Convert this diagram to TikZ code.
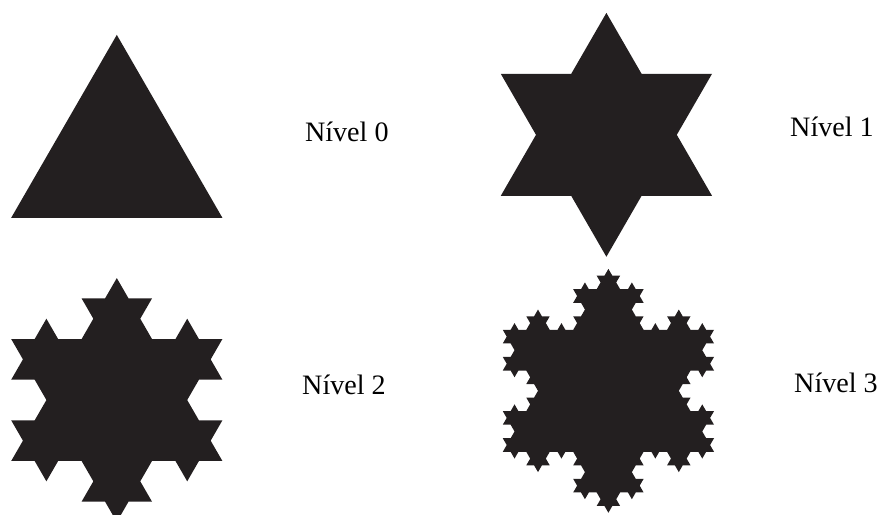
\documentclass[tikz,border=0pt]{standalone}
\usepackage{fontspec}
\setmainfont{Liberation Serif}
\usepackage{xcolor}
\usetikzlibrary{lindenmayersystems}

\definecolor{flake}{RGB}{35,31,32}
\pgfdeclarelindenmayersystem{Koch}{
  \rule{F -> F-F++F-F}
}

\begin{document}
\begin{tikzpicture}[font=\fontsize{20}{24}\selectfont,
  nivel/.style={anchor=base},
  koch/.style n args={2}{fill=flake, lindenmayer system={Koch, axiom=F++F++F, angle=60, order=#1, step=#2}}]
\useasboundingbox (0,0) rectangle (22.1,12.875);
% niveis 0 a 3
\fill[koch={0}{5.28cm}, shift={(0.28,7.43)}] (0,0) lindenmayer system -- cycle;
\fill[koch={1}{1.76cm}, shift={(12.52,7.98)}] (0,0) lindenmayer system -- cycle;
\fill[koch={2}{0.5867cm}, shift={(0.28,1.35)}] (0,0) lindenmayer system -- cycle;
\fill[koch={3}{0.19556cm}, shift={(12.57,1.58)}] (0,0) lindenmayer system -- cycle;
% rotulos
\node[nivel] (nivel0) at (8.67,9.33) {Nível 0};
\node[nivel] (nivel1) at (20.8,9.45) {Nível 1};
\node[nivel] (nivel2) at (8.6,3.01) {Nível 2};
\node[nivel] (nivel3) at (20.9,3.05) {Nível 3};
\end{tikzpicture}
\end{document}
